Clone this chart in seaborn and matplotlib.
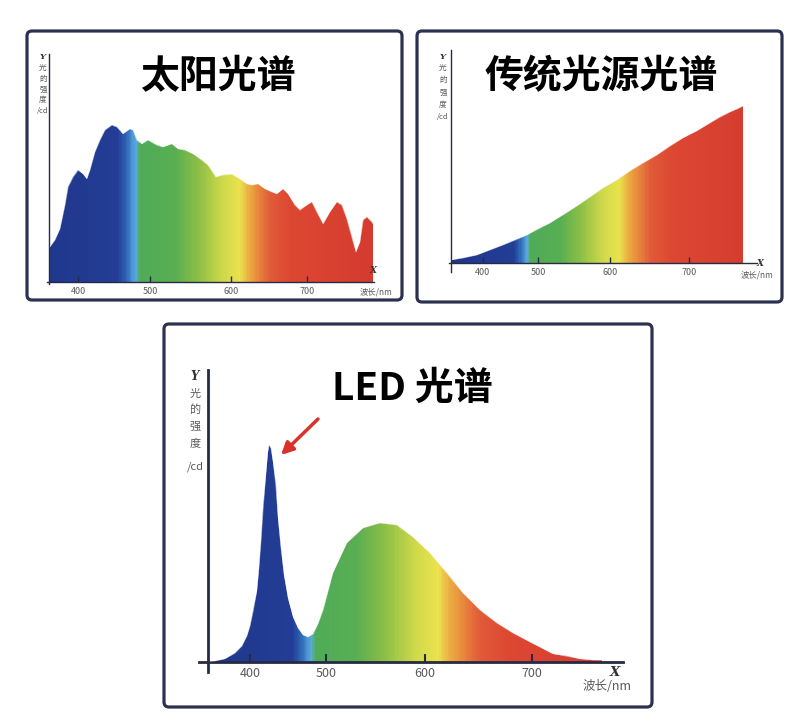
import numpy as np
import matplotlib
matplotlib.use('Agg')
import matplotlib.pyplot as plt
import seaborn as sns
from matplotlib.colors import LinearSegmentedColormap
from matplotlib.patches import FancyBboxPatch
from matplotlib.transforms import IdentityTransform

W, H = 804, 725

# wavelength (nm) and relative intensity
SUN_NM = [361, 368, 375, 382, 386.5, 393.5, 400.4, 407.4, 412.1, 416.7,
          423.6, 430.6, 437.5, 446.8, 453.8, 462.9, 472.2, 476.8, 481.5, 488.5,
          497.6, 508.3, 516.4, 526.8, 534.9, 543.2, 553.5, 563.8, 572, 581.2,
          589.3, 600.9, 611.8, 620.7, 627.2, 635.9, 644.7, 653.6, 660.1, 668.8,
          675.4, 684.2, 690.8, 699.6, 706.2, 712.8, 721.5, 730.3, 739.1, 745.7,
          752.2, 758.8, 764.5, 769.7, 774.1, 778.6, 785.1, 787.2]
SUN_VAL = [35, 41.7, 53.3, 76.7, 95, 105, 111.7, 108.3, 103.3, 111.7,
           130, 141.7, 151.7, 156.7, 155, 148.3, 153.3, 151.7, 141.7, 138.3,
           141.7, 136.7, 135, 138.3, 133.3, 131.7, 128.3, 121.7, 116.7, 105,
           106.7, 107.7, 103.3, 98.3, 96.7, 98.3, 93.3, 90, 88.3, 93.3,
           88.3, 76.7, 71.7, 76.7, 80, 70, 58.3, 70, 80, 76.7,
           63.3, 45, 30, 40, 61.7, 65, 60, 58.3]

TRAD_NM = [343.6, 364.2, 389.1, 412.7, 436.4, 458.2, 480, 500.4, 516.7, 535.1,
           554.2, 572.2, 590.3, 608.5, 625.3, 642.2, 659.5, 676, 692.4, 709.7,
           726.6, 739.2, 751.9, 760.3, 768.4]
TRAD_VAL = [3.3, 5, 8, 13, 18, 22.7, 28, 34, 40, 48.3,
            57, 65.7, 75, 83.3, 92, 100, 108, 116.7, 125, 132.3,
            140, 145.7, 151, 153.7, 157]

LED_NM = [347.4, 353.9, 367.1, 380.3, 389.1, 395.7, 400, 404.3, 408.8, 411.8,
          414.5, 417.5, 420.7, 423.3, 425.4, 427.6, 430.7, 433.8, 437.2, 440.8,
          445.1, 450.4, 457, 463.6, 470.1, 476.7, 483.3, 489.5, 496.4, 506.9,
          520.9, 537.4, 554.5, 571.4, 587.9, 604.7, 620.3, 635.5, 651.4, 667,
          682.2, 698.1, 719.9, 732.4, 744.9, 757.3, 765.2]
LED_VAL = [0.5, 1, 3.3, 8.7, 15.7, 25.7, 35.7, 50.7, 70.7, 94,
           120.7, 154, 187, 210, 217, 213.7, 200, 177, 143.7, 113.7,
           87, 63.7, 45.3, 33.7, 27, 25, 28.3, 38, 52, 89,
           119, 134, 139, 137, 125, 109, 89, 69, 52, 39,
           29, 20, 8.3, 5.7, 3.3, 2, 1.7]

TICKS = [400, 500, 600, 700]
TICK_LABELS = ['400', '500', '600', '700']
TITLES = ['太阳光谱', '传统光源光谱', 'LED 光谱']
Y_LABEL = ['光', '的', '强', '度', '/cd']
X_LABEL = '波长/nm'

# colour of the spectrum along the wavelength axis
STOPS = [(340, '#1f3689'), (455, '#233d96'), (466, '#2c62b2'), (476, '#4f9bd6'),
         (481, '#5aabd9'), (486, '#4fab58'), (530, '#58ae52'), (560, '#8dbf45'),
         (590, '#cfd94a'), (612, '#ebe24e'), (622, '#ecb244'), (635, '#e88a3c'),
         (652, '#e05a38'), (680, '#dc4732'), (790, '#d43a2e')]
LO, HI = STOPS[0][0], STOPS[-1][0]
cmap = LinearSegmentedColormap.from_list('spec', [((n - LO) / (HI - LO), c) for n, c in STOPS])

NAVY = '#2d3150'
AXIS = '#262a44'
GRAY = '#5a5a5a'

sns.set_theme(style='white')
plt.rcParams['font.family'] = ['Noto Sans CJK SC', 'DejaVu Sans']

fig = plt.figure(figsize=(W / 100, H / 100), dpi=100)
fig.patch.set_facecolor('white')


def fx(x):
    return x / W


def fy(y):
    return 1 - y / H


def make_scale(tick_px):
    # the printed axes are not quite linear: map nm -> pixel through the tick positions
    t = list(tick_px)
    px = [t[0] - 2 * (t[1] - t[0])] + t + [t[3] + 2 * (t[3] - t[2])]
    nm = [200, 400, 500, 600, 700, 900]
    return (lambda v: np.interp(v, nm, px)), (lambda p: np.interp(p, px, nm))


def panel(frame, ax_px, tick_px, title, title_xy, wl, val, small, lw_axis):
    x0, y0, x1, y1 = frame
    fig.patches.append(FancyBboxPatch((x0, H - y1), x1 - x0, y1 - y0,
                                      boxstyle='round,pad=0,rounding_size=5',
                                      transform=IdentityTransform(), facecolor='white',
                                      edgecolor=NAVY, lw=2.3, zorder=-5))
    xs, xe, yx, base, top, ybot = ax_px
    L, R, T, B = xs - 6, xe + 6, top - 6, ybot + 4
    ax = fig.add_axes([fx(L), fy(B), (R - L) / W, (B - T) / H])
    ax.set_zorder(2)
    ax.patch.set_alpha(0)
    ax.set_axisbelow(False)
    fwd, inv = make_scale(tick_px)
    ax.set_xscale('function', functions=(fwd, inv))

    sns.lineplot(x=wl, y=val, ax=ax, color='white', lw=0.5, alpha=0.5, zorder=3)
    fill = ax.fill_between(wl, 0, val, color='none', lw=0)
    edges = np.linspace(wl[0], wl[-1], 500)
    mids = (edges[:-1] + edges[1:]) / 2
    mesh = ax.pcolormesh(edges, [0, max(val) * 1.05], mids[None, :], cmap=cmap,
                         norm=plt.Normalize(LO, HI), shading='flat', zorder=1)
    mesh.set_clip_path(fill.get_paths()[0], ax.transData)

    ax.set_xlim(inv(L), inv(R))
    ax.set_ylim(base - B, base - T)
    ax.spines['top'].set_visible(False)
    ax.spines['right'].set_visible(False)
    ax.spines['left'].set_position(('data', inv(yx)))
    ax.spines['left'].set_bounds(base - ybot, base - top)
    ax.spines['bottom'].set_position(('data', 0))
    ax.spines['bottom'].set_bounds(inv(xs), inv(xe))
    for s in ('left', 'bottom'):
        ax.spines[s].set_color(AXIS)
        ax.spines[s].set_linewidth(lw_axis)
    ax.set_yticks([])
    ax.set_xticks(TICKS)
    ax.set_xticklabels(TICK_LABELS)
    ax.tick_params(axis='x', bottom=True, direction='in', color=AXIS,
                   length=4 if small else 6, width=1 if small else 1.5,
                   labelsize=6.5 if small else 9, labelcolor=GRAY, pad=3.5)

    fig.text(fx(title_xy[0]), fy(title_xy[1]), title, ha='center', va='center',
             fontsize=28, fontweight='bold', color='black', zorder=5)
    return ax


def y_label(x, ys, fs):
    fig.text(fx(x), fy(ys[0]), 'Y', ha='center', va='center', fontsize=fs + 0.5,
             family='DejaVu Serif', style='italic', fontweight='bold', color='#333333')
    for ch, y in zip(Y_LABEL, ys[1:]):
        fig.text(fx(x), fy(y), ch, ha='center', va='center', fontsize=fs, color=GRAY)


def x_label(xy_x, xy_lab, fs):
    fig.text(fx(xy_x[0]), fy(xy_x[1]), 'X', ha='center', va='center', fontsize=fs + 0.5,
             family='DejaVu Serif', style='italic', fontweight='bold', color='#333333')
    fig.text(fx(xy_lab[0]), fy(xy_lab[1]), X_LABEL, ha='center', va='center',
             fontsize=fs, color=GRAY)


# sun
panel((27, 31, 402, 300), (47, 374, 49, 282, 54, 284), (78, 150, 231, 307),
      TITLES[0], (218, 77), SUN_NM, SUN_VAL, True, 1.0)
y_label(43, [57, 68, 79, 90, 100, 111], 5.5)
x_label((373, 270), (376, 292), 6)

# traditional light source
panel((417, 31, 782, 302), (449, 757, 451, 263, 50, 272), (483, 538, 610, 689),
      TITLES[1], (601, 77), TRAD_NM, TRAD_VAL, True, 1.0)
y_label(443, [57, 68, 80, 93, 105, 117], 5.5)
x_label((760, 263), (757, 275), 6)

# LED
ax3 = panel((164, 324, 652, 707), (199, 623, 208, 662, 370, 672), (250, 326, 425, 532),
            TITLES[2], (412, 388), LED_NM, LED_VAL, False, 2.0)
y_label(195, [376, 394, 410, 427, 444, 467], 8)
x_label((615, 673), (607, 687), 9)

ax3.annotate('', xy=(fx(281), fy(455)), xytext=(fx(318), fy(419)),
             xycoords='figure fraction', textcoords='figure fraction',
             arrowprops=dict(arrowstyle='-|>', color='#d8322b', lw=2.5,
                             mutation_scale=18, shrinkA=0, shrinkB=0))

fig.savefig('out.png', dpi=100, facecolor='white')
